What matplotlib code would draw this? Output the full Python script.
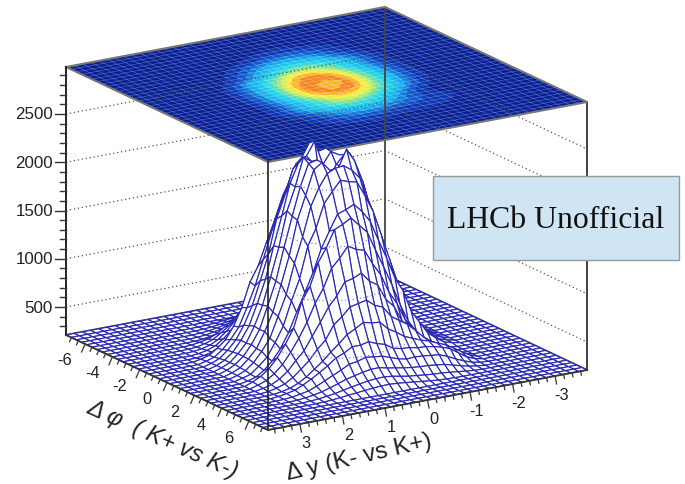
#!/usr/bin/env python
"""Surface plot of the K+ K- correlation with its contour map on the lid."""

import matplotlib

matplotlib.use("Agg")
import matplotlib.pyplot as plt
import numpy as np
from matplotlib.collections import PolyCollection
from matplotlib.colors import LinearSegmentedColormap
from matplotlib.patches import Rectangle

PHI_RANGE = (-7.4, 7.4)
DY_RANGE = (-3.75, 3.75)
Z_RANGE = (210.0, 2987.0)
N_BINS = 40

Z_TICKS = [500, 1000, 1500, 2000, 2500]
PHI_TICKS = [-6, -4, -2, 0, 2, 4, 6]
DY_TICKS = [3, 2, 1, 0, -1, -2, -3]

# bin contents: rows go with dphi, columns with dy
# everything outside this block lies on the floor
MOUNTAIN_ROW0 = 5
MOUNTAIN_COL0 = 7
MOUNTAIN = [
    [210,210,211,214,218,227,236,244,254,262,268,270,264,256,246,236,227,218,214,211,210,210,210,210,210,210],
    [210,211,214,221,232,245,262,280,295,310,318,322,312,296,281,262,245,232,221,214,211,210,210,210,210,210],
    [210,214,222,235,252,278,305,335,355,375,390,392,372,358,332,308,276,252,235,222,214,210,210,210,210,210],
    [213,220,235,252,285,325,365,405,450,462,490,478,470,440,410,362,328,282,252,235,220,213,210,210,210,210],
    [218,232,252,290,335,385,440,505,540,590,590,610,575,550,495,445,380,338,288,252,232,218,212,210,210,210],
    [214,226,245,280,330,395,460,540,610,690,735,785,765,755,670,620,530,465,390,335,278,245,226,214,210,210],
    [218,237,265,315,385,460,560,640,780,850,935,955,975,905,870,760,660,545,465,380,318,265,237,218,212,210],
    [226,248,290,355,450,535,670,800,940,1040,1170,1190,1230,1130,1075,910,820,650,540,445,358,290,248,226,214,210],
    [234,265,320,400,510,640,790,970,1110,1300,1390,1500,1450,1425,1340,1240,1060,850,640,515,398,322,265,234,217,210],
    [243,285,350,445,570,720,960,1100,1360,1505,1620,1650,1700,1580,1480,1290,1060,880,700,560,448,350,285,243,222,212],
    [226,250,305,385,495,645,860,1080,1280,1550,1755,1880,1950,1990,1880,1760,1520,1305,1080,930,680,505,378,307,250,226],
    [230,255,322,400,535,690,935,1150,1470,1720,1950,2080,2170,2120,2100,1900,1680,1440,1175,915,705,520,408,318,256,230],
    [233,268,335,435,555,765,975,1285,1575,1860,2080,2240,2220,2330,2180,2090,1830,1605,1255,995,750,565,428,337,267,233],
    [236,272,348,440,600,785,1055,1335,1640,1950,2180,2230,2110,2370,2230,2170,1980,1660,1365,1035,800,585,450,343,276,235],
    [237,280,348,455,595,825,1065,1400,1680,2000,2210,2120,1960,2000,2200,2260,1970,1735,1375,1085,805,605,445,352,276,238],
    [238,276,355,445,605,810,1085,1380,1700,1980,2250,2130,2000,1970,2240,2220,2000,1705,1400,1065,825,595,455,348,280,237],
    [235,276,343,450,585,800,1035,1365,1630,1960,2190,2330,2150,2140,2240,2180,1930,1690,1335,1055,785,600,440,348,272,236],
    [233,267,337,428,565,750,995,1255,1560,1800,2040,2140,2200,2190,2150,2020,1840,1540,1285,975,765,555,435,335,268,233],
    [230,256,318,408,520,705,915,1175,1440,1700,1880,2040,2060,2090,1990,1880,1640,1470,1150,935,690,535,400,322,255,230],
    [226,250,307,378,505,630,860,1010,1230,1430,1640,1760,1850,1810,1780,1620,1450,1220,1030,840,645,495,385,305,250,226],
    [212,222,243,285,350,448,570,760,980,1180,1370,1570,1660,1750,1700,1660,1490,1350,1120,980,720,570,445,350,285,243],
    [210,217,234,265,322,398,515,625,810,945,1140,1270,1425,1450,1500,1390,1300,1110,970,790,640,510,400,320,265,234],
    [210,214,226,248,290,358,445,540,650,820,910,1075,1130,1230,1190,1170,1040,940,800,670,535,450,355,290,248,226],
    [210,232,278,337,365,418,480,565,645,700,760,870,905,975,955,935,850,780,640,560,460,385,315,265,237,218],
    [210,240,290,346,395,428,465,490,525,560,620,670,755,765,785,735,690,610,540,460,395,330,280,245,226,214],
    [210,228,262,318,378,410,432,448,452,470,475,495,550,575,610,590,590,540,505,440,385,335,290,252,232,218],
    [210,215,232,262,298,340,372,382,392,398,392,410,440,470,478,490,462,450,405,365,325,285,252,235,220,213],
    [210,210,218,232,252,276,298,308,318,322,330,342,358,372,392,390,375,355,335,305,278,252,235,222,214,210],
    [210,210,210,214,222,232,242,250,254,262,272,281,296,312,322,318,310,295,280,262,245,232,221,214,211,210],
    [210,210,210,210,210,210,211,214,218,227,236,246,256,264,270,268,262,254,244,236,227,218,214,211,210,210],
]

MESH_COLOR = "#2a2ab4"
BOX_COLOR = "#cfe5f4"

plt.rcParams["font.family"] = ["Liberation Sans", "DejaVu Sans"]

# corners of the box on the canvas
LEFT = np.array([66.0, 335.0])
PHI_VEC = np.array([202.0, 95.0])
DY_VEC = np.array([319.0, -60.0])
Z_SCALE = 268.0 / (Z_RANGE[1] - Z_RANGE[0])


def project(phi, dy, z):
    """Parallel projection of the box onto the page."""
    s = (np.asarray(phi, dtype=float) - PHI_RANGE[0]) / (PHI_RANGE[1] - PHI_RANGE[0])
    t = (DY_RANGE[1] - np.asarray(dy, dtype=float)) / (DY_RANGE[1] - DY_RANGE[0])
    px = LEFT[0] + s * PHI_VEC[0] + t * DY_VEC[0]
    py = LEFT[1] + s * PHI_VEC[1] + t * DY_VEC[1] - (np.asarray(z, dtype=float) - Z_RANGE[0]) * Z_SCALE
    return px, py


def box_line(ax, p0, p1, **kw):
    x0, y0 = project(*p0)
    x1, y1 = project(*p1)
    ax.plot([x0, x1], [y0, y1], **kw)


zgrid = np.full((N_BINS, N_BINS), Z_RANGE[0])
block = np.array(MOUNTAIN, dtype=float)
zgrid[MOUNTAIN_ROW0:MOUNTAIN_ROW0 + block.shape[0],
      MOUNTAIN_COL0:MOUNTAIN_COL0 + block.shape[1]] = block

phi_nodes = np.linspace(PHI_RANGE[0], PHI_RANGE[1], N_BINS)
dy_nodes = np.linspace(DY_RANGE[0], DY_RANGE[1], N_BINS)
PHI, DY = np.meshgrid(phi_nodes, dy_nodes, indexing="ij")

fig = plt.figure(figsize=(6.85, 4.84), dpi=100)
ax = fig.add_axes([0, 0, 1, 1])
ax.set_xlim(0, 685)
ax.set_ylim(484, 0)
ax.axis("off")

phi0, phi1 = PHI_RANGE
dy0, dy1 = DY_RANGE
z0, z1 = Z_RANGE

# contour map on the lid
cmap = LinearSegmentedColormap.from_list(
    "root_rainbow",
    [(0.0, "#051588"), (0.1, "#0a3fc0"), (0.22, "#12a8ee"), (0.38, "#20d8e8"),
     (0.48, "#70e0a0"), (0.57, "#d8f050"), (0.63, "#fbe83c"), (0.71, "#f98a20"),
     (1.0, "#d81e10")])
smooth = zgrid.copy()
smooth[1:-1, 1:-1] = 0.5 * zgrid[1:-1, 1:-1] + 0.5 * sum(
    zgrid[1 + a:N_BINS - 1 + a, 1 + b:N_BINS - 1 + b]
    for a in (-1, 0, 1) for b in (-1, 0, 1)) / 9.0
top_x, top_y = project(PHI, DY, np.full_like(PHI, z1))
levels = np.linspace(z0, z1, 21)
ax.contourf(top_x, top_y, smooth, levels=levels, cmap=cmap, zorder=1, antialiased=False)
for k in range(0, N_BINS):
    ax.plot(top_x[k, :], top_y[k, :], color="white", lw=0.5, alpha=0.28, zorder=1.5)
    ax.plot(top_x[:, k], top_y[:, k], color="white", lw=0.5, alpha=0.28, zorder=1.5)

# dotted z grid on the two back walls
for z in Z_TICKS:
    xs, ys = project([phi0, phi0, phi1], [dy1, dy0, dy0], [z, z, z])
    ax.plot(xs, ys, color="#555555", lw=0.9, ls=(0, (1, 2.2)), zorder=2)

# back edges
box_line(ax, (phi0, dy0, z0), (phi0, dy0, z1), color="#444444", lw=1.3, zorder=2)
box_line(ax, (phi1, dy0, z0), (phi1, dy0, z1), color="#333333", lw=1.3, zorder=2)
xs, ys = project([phi0, phi0, phi1, phi1, phi0], [dy1, dy0, dy0, dy1, dy1], [z1] * 5)
ax.plot(xs, ys, color="#777777", lw=1.5, zorder=2)
xs, ys = project([phi0, phi0, phi1], [dy1, dy0, dy0], [z0] * 3)
ax.plot(xs, ys, color="#444444", lw=1.5, zorder=2)

# the surface, painted from the back corner to the front one
sx, sy = project(PHI, DY, zgrid)
polys = []
for i in range(N_BINS - 1):
    for j in range(N_BINS - 1):
        polys.append([(sx[i, j], sy[i, j]), (sx[i + 1, j], sy[i + 1, j]),
                      (sx[i + 1, j + 1], sy[i + 1, j + 1]), (sx[i, j + 1], sy[i, j + 1])])
ax.add_collection(PolyCollection(polys, facecolors="white", edgecolors=MESH_COLOR,
                                 linewidths=0.85, zorder=3))

# level lines on the near side of the mountain
ii, jj = np.meshgrid(np.arange(N_BINS), np.arange(N_BINS), indexing="ij")
hidden = (ii + jj < N_BINS + 2) | (sx < 268)
ax.contour(sx, sy, np.ma.masked_where(hidden, zgrid), levels=Z_TICKS[:4], colors="#8a8ae0",
           linewidths=0.9, linestyles=[(0, (1, 2))], zorder=3.5)

# front edges and axes
box_line(ax, (phi1, dy1, z0), (phi1, dy1, z1), color="#222222", lw=1.2, zorder=4)
box_line(ax, (phi0, dy1, z0), (phi0, dy1, z1), color="#222222", lw=1.4, zorder=4)
box_line(ax, (phi0, dy1, z0), (phi1, dy1, z0), color="#333333", lw=1.3, zorder=4)
box_line(ax, (phi1, dy1, z0), (phi1, dy0, z0), color="#333333", lw=1.3, zorder=4)

# z axis ticks
for z in np.arange(300, 3000, 100):
    x, y = project(phi0, dy1, z)
    size = 11 if z % 500 == 0 else 5.5
    ax.plot([x - size, x], [y, y], color="#333333", lw=1.0, zorder=4)
for z in Z_TICKS:
    x, y = project(phi0, dy1, z)
    ax.text(x - 13, y + 1, str(z), ha="right", va="center", fontsize=12.2, color="#222222")

# dphi ticks
for v in np.arange(-7, 7.01, 0.5):
    x, y = project(v, dy1, z0)
    major = v % 2 == 0
    ax.plot([x, x - (3.5 if major else 1.8)], [y, y + (8 if major else 4)],
            color="#333333", lw=0.9, zorder=4)
for v in PHI_TICKS:
    x, y = project(v, dy1, z0)
    ax.text(x - 20, y + 17, str(v), ha="center", va="center", fontsize=11.8, color="#222222")

# dy ticks
for v in np.arange(-3.6, 3.61, 0.2):
    x, y = project(phi1, v, z0)
    major = abs(v - round(v)) < 1e-6
    ax.plot([x, x + (1.5 if major else 0.8)], [y, y + (8 if major else 4)],
            color="#333333", lw=0.9, zorder=4)
for v in DY_TICKS:
    x, y = project(phi1, v, z0)
    ax.text(x + 6, y + 19, str(v), ha="center", va="center", fontsize=11.8, color="#222222")

# axis titles
ax.text(162, 440, "Δ φ  ( K+ vs K-)", rotation=-24, rotation_mode="anchor", ha="center",
        va="center", fontsize=17, style="italic", color="#222222")
ax.text(359, 458, "Δ y (K- vs K+)", rotation=13, rotation_mode="anchor", ha="center",
        va="center", fontsize=17.5, color="#222222")

# label box
ax.add_patch(Rectangle((433, 176), 246, 84, facecolor=BOX_COLOR, edgecolor="#999999",
                       lw=1.0, zorder=5))
ax.text(556, 221, "LHCb Unofficial", ha="center", va="center", fontsize=22.9,
        family="Liberation Serif", color="#111111", zorder=6)

fig.savefig("out.png", dpi=100)
